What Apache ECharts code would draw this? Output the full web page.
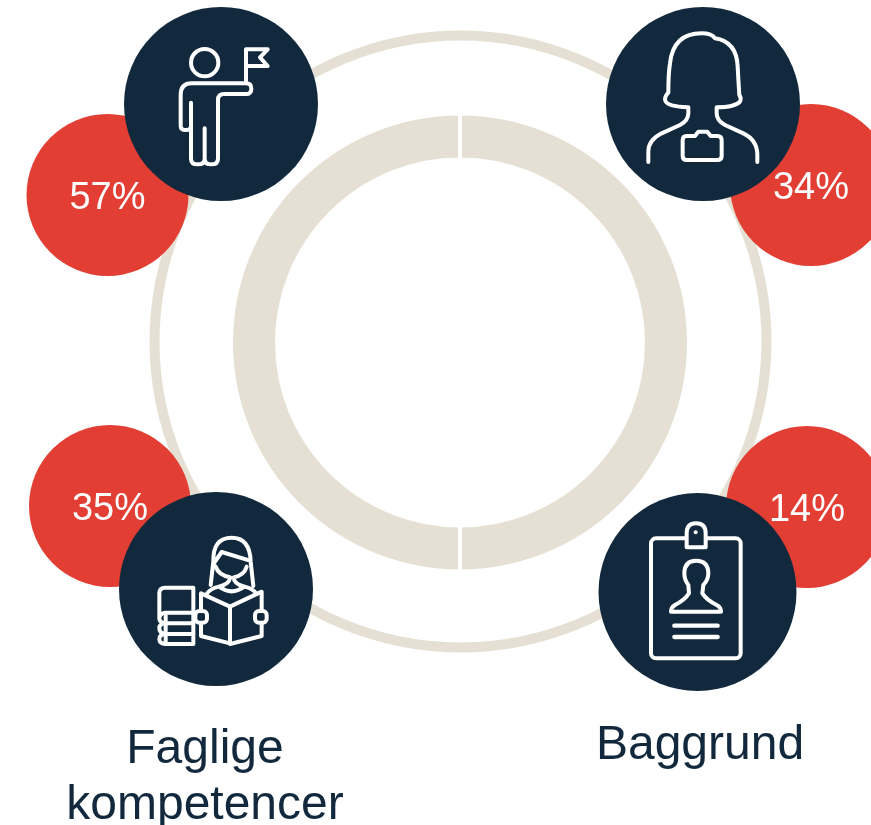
<!DOCTYPE html>
<html>
<head>
<meta charset="utf-8">
<style>html,body{margin:0;padding:0;background:#fff}#c{width:871px;height:825px}</style>
<script src="https://cdn.jsdelivr.net/npm/echarts@6/dist/echarts.min.js"></script>
</head>
<body>
<div id="c"></div>
<script>
const shares = [57, 34, 35, 14];
const captions = ['Faglige\nkompetencer', 'Baggrund'];
const ringParts = [50, 50];

const RED = '#E23E33', NAVY = '#12293D', BEIGE = '#E6E0D4';
const FONT = '"Liberation Sans", Arial, sans-serif';
const badgeAt = [[107.5, 195], [811, 185], [110, 506], [807, 507]];
const discAt = [[221, 104], [703, 104], [216, 589], [697.5, 592]];
const discSize = [194, 194, 194, 198];

const stroke = {fill: 'none', stroke: '#fff', lineWidth: 12, lineCap: 'round', lineJoin: 'round'};
const solid = {fill: NAVY, stroke: '#fff', lineWidth: 12, lineJoin: 'round'};
const p = (d, style) => ({type: 'path', shape: {pathData: d}, style: style || stroke});
const icon = (x, y, children) => ({type: 'group', x, y, scaleX: 1 / 3, scaleY: 1 / 3, children});

const icons = [
  icon(120, 0, [
    {type: 'circle', shape: {cx: 254, cy: 188, r: 41}, style: stroke},
    p('M378 250V148H443L420 172L443 198H378'),
    p('M213 308V476Q213 493 233 493Q254 493 254 476V385M254 476Q254 493 274 493Q294 493 294 476V300Q294 282 312 282H378Q394 282 394 266Q394 250 378 250H215Q182 250 182 285V378Q182 390 197 390Q213 390 213 378V308')
  ]),
  icon(600, 0, [
    p('M145 486V455Q145 420 185 400L240 375Q265 362 265 340V322Q195 320 195 298Q195 288 205 278Q205 220 210 190Q220 100 305 100Q335 100 345 115Q410 125 413 200Q415 240 418 285Q425 295 420 305Q405 322 350 322V340Q350 362 375 375L430 400Q472 420 472 465V486'),
    p('M260 408H285L295 395H322L332 408H352Q365 408 365 420V468Q365 480 352 480H260Q248 480 248 468V420Q248 408 260 408Z')
  ]),
  icon(115, 490, [
    p('M235 293H150Q133 293 133 310V385M235 293V462H150M150 368H235M150 400H235M150 432H235M152 368V462M150 368Q133 372 133 385Q133 398 150 400Q133 402 133 415Q133 430 150 432Q133 434 133 447Q133 460 150 462'),
    p('M287 285L295 215Q293 143 350 143Q405 143 407 215L415 288M295 222L320 186L405 212M302 230Q310 255 345 262Q345 282 312 290M395 230Q388 255 356 262Q356 282 388 290M312 290Q350 318 388 290M275 312Q285 296 312 290M388 290Q415 296 425 312'),
    p('M258 310L345 350V460L258 438ZM440 305L345 350V462L440 438Z'),
    {type: 'rect', shape: {x: 241, y: 363, width: 35, height: 35, r: 12}, style: solid},
    {type: 'rect', shape: {x: 420, y: 363, width: 35, height: 35, r: 12}, style: solid}
  ]),
  icon(595, 490, [
    {type: 'rect', shape: {x: 168, y: 145, width: 269, height: 360, r: 15}, style: stroke},
    p('M275 172V130Q275 100 303 100Q332 100 332 130V172Z', solid),
    {type: 'circle', shape: {cx: 302, cy: 127, r: 6}, style: {fill: '#fff'}},
    p('M303 212Q268 212 268 250Q268 270 280 285L282 310Q270 330 240 345Q228 352 228 365H378Q378 352 365 345Q335 330 322 310L325 285Q340 270 340 250Q340 212 303 212Z'),
    p('M238 407H368M238 441H368', {...stroke, lineWidth: 13})
  ])
];

const captionStyle = {color: NAVY, fontFamily: FONT, fontSize: 48, fontWeight: 'normal', lineHeight: 56};

const chart = echarts.init(document.getElementById('c'), null, {renderer: 'canvas'});
chart.setOption({
  animation: false,
  backgroundColor: '#fff',
  grid: {left: 0, right: 0, top: 0, bottom: 0},
  xAxis: {type: 'value', min: 0, max: 871, show: false},
  yAxis: {type: 'value', min: 0, max: 825, inverse: true, show: false},
  title: [
    {text: captions[0], left: 205, top: 722, padding: 0, textAlign: 'center', textStyle: captionStyle},
    {text: captions[1], left: 700, top: 718, padding: 0, textAlign: 'center', textStyle: captionStyle}
  ],
  series: [
    {type: 'pie', silent: true, z: 1, center: [460.5, 341.5], radius: [301, 311], label: {show: false},
     startAngle: 90, data: [{value: 1, itemStyle: {color: BEIGE}}]},
    {type: 'pie', silent: true, z: 1, center: [460, 342.5], radius: [183, 229], label: {show: false}, startAngle: 90,
     itemStyle: {color: BEIGE, borderColor: '#fff', borderWidth: 4},
     data: ringParts.map(v => ({value: v}))},
    {type: 'scatter', z: 3, silent: true, symbol: 'circle', symbolSize: 162,
     itemStyle: {color: RED, opacity: 1},
     label: {show: true, position: 'inside', offset: [0, 4], color: '#fff', fontFamily: FONT, fontSize: 38,
             formatter: o => o.value[2] + '%'},
     data: shares.map((s, i) => [badgeAt[i][0], badgeAt[i][1], s])},
    {type: 'scatter', z: 4, silent: true, symbol: 'circle',
     symbolSize: (v, o) => discSize[o.dataIndex],
     itemStyle: {color: NAVY, opacity: 1},
     data: discAt.map(c => [c[0], c[1]])},
    {type: 'custom', z: 5, silent: true, clip: false,
     renderItem: (params) => icons[params.dataIndex],
     data: discAt.map(c => [c[0], c[1]])}
  ]
});
</script>
</body>
</html>
